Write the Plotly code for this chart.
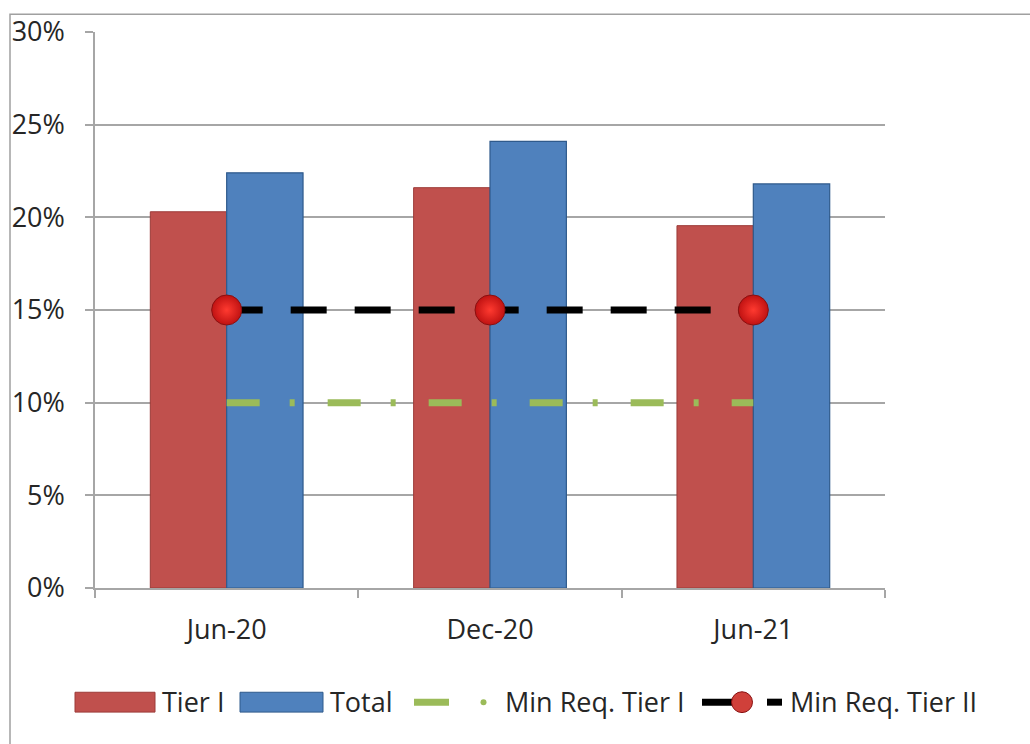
import plotly.graph_objects as go

categories = ["Jun-20", "Dec-20", "Jun-21"]
tier1 = [0.203, 0.216, 0.1955]
total = [0.224, 0.241, 0.218]
min_req_tier1 = [0.10, 0.10, 0.10]
min_req_tier2 = [0.15, 0.15, 0.15]
y_ticks = [0, 0.05, 0.10, 0.15, 0.20, 0.25, 0.30]

W, H = 1030, 744
L, R, T, B = 95, 145, 28, 156
PW, PH = W - L - R, H - T - B

def px(x):
    return (x - L) / PW

def py(y):
    return (H - B - y) / PH

FONT = "Open Sans, Noto Sans, Liberation Sans, sans-serif"
FS = 27
TXT = "#262626"
RED = "#c0504d"
BLUE = "#4f81bd"
GREEN = "#9bbb59"
GRID = "#a6a6a6"

fig = go.Figure()
fig.add_bar(x=categories, y=tier1, name="Tier I",
            marker=dict(color=RED, line=dict(color="#9c3b38", width=1)))
fig.add_bar(x=categories, y=total, name="Total",
            marker=dict(color=BLUE, line=dict(color="#2f5a8c", width=1.2)))
fig.add_scatter(x=categories, y=min_req_tier1, name="Min Req. Tier I", mode="lines",
                line=dict(color=GREEN, width=7, dash="33px,30px,5px,33px"))
fig.add_scatter(x=categories, y=min_req_tier2, name="Min Req. Tier II", mode="lines+markers",
                line=dict(color="#000000", width=7, dash="36px,28px"),
                marker=dict(size=30, color="#c01212",
                            gradient=dict(type="radial", color="#ff3a30"),
                            line=dict(color="#8a1010", width=1)))

shapes = []
# outer chart border
shapes.append(dict(type="rect", xref="paper", yref="paper",
                   x0=px(10), x1=px(1045), y0=py(10), y1=py(765),
                   line=dict(color="#a0a0a0", width=1.5), fillcolor="rgba(0,0,0,0)", layer="below"))

# custom legend
shapes.append(dict(type="rect", xref="paper", yref="paper", x0=px(75), x1=px(155), y0=py(693), y1=py(713),
                   fillcolor=RED, line=dict(color="#9c3b38", width=1)))
shapes.append(dict(type="rect", xref="paper", yref="paper", x0=px(240), x1=px(323), y0=py(693), y1=py(713),
                   fillcolor=BLUE, line=dict(color="#2f5a8c", width=1)))
shapes.append(dict(type="line", xref="paper", yref="paper", x0=px(414), x1=px(449), y0=py(703), y1=py(703),
                   line=dict(color=GREEN, width=7)))
shapes.append(dict(type="circle", xref="paper", yref="paper", x0=px(480.5), x1=px(486.5), y0=py(700), y1=py(706),
                   fillcolor=GREEN, line=dict(color=GREEN, width=0)))
shapes.append(dict(type="line", xref="paper", yref="paper", x0=px(702), x1=px(740), y0=py(703), y1=py(703),
                   line=dict(color="#000000", width=7)))
shapes.append(dict(type="circle", xref="paper", yref="paper", x0=px(731.5), x1=px(752.5), y0=py(692.5), y1=py(713.5),
                   fillcolor="#d0403a", line=dict(color="#8a1010", width=1)))
shapes.append(dict(type="line", xref="paper", yref="paper", x0=px(767), x1=px(782), y0=py(703), y1=py(703),
                   line=dict(color="#000000", width=7)))

annotations = []
for label, xpos in [("Tier I", 160), ("Total", 328), ("Min Req. Tier I", 503), ("Min Req. Tier II", 788)]:
    annotations.append(dict(text=label, xref="paper", yref="paper", x=px(xpos), y=py(702),
                            xanchor="left", yanchor="middle", showarrow=False,
                            font=dict(family=FONT, size=FS, color=TXT)))

fig.update_layout(
    width=W, height=H,
    margin=dict(l=L, r=R, t=T, b=B, pad=0),
    paper_bgcolor="white", plot_bgcolor="white",
    barmode="group", bargap=0.42, bargroupgap=0,
    showlegend=False,
    font=dict(family=FONT, size=FS, color=TXT),
    shapes=shapes, annotations=annotations,
    xaxis=dict(type="category", tickson="boundaries", ticks="outside", ticklen=8,
               tickcolor=GRID, tickwidth=1.5, showline=True, linecolor=GRID, linewidth=1.5,
               showgrid=False, tickfont=dict(family=FONT, size=FS, color=TXT),
               ticklabelstandoff=17),
    yaxis=dict(range=[0, 0.30], tickvals=y_ticks, tickformat=".0%", ticks="outside", ticklen=8,
               tickcolor=GRID, tickwidth=1.5, showline=True, linecolor=GRID, linewidth=1.5,
               showgrid=True, gridcolor=GRID, gridwidth=1.5, zeroline=False,
               tickfont=dict(family=FONT, size=FS, color=TXT), ticklabelstandoff=15),
)

fig.write_html("out.html", config={"displayModeBar": False},
               post_script="document.body.style.margin='0px';document.body.style.overflow='hidden';")
